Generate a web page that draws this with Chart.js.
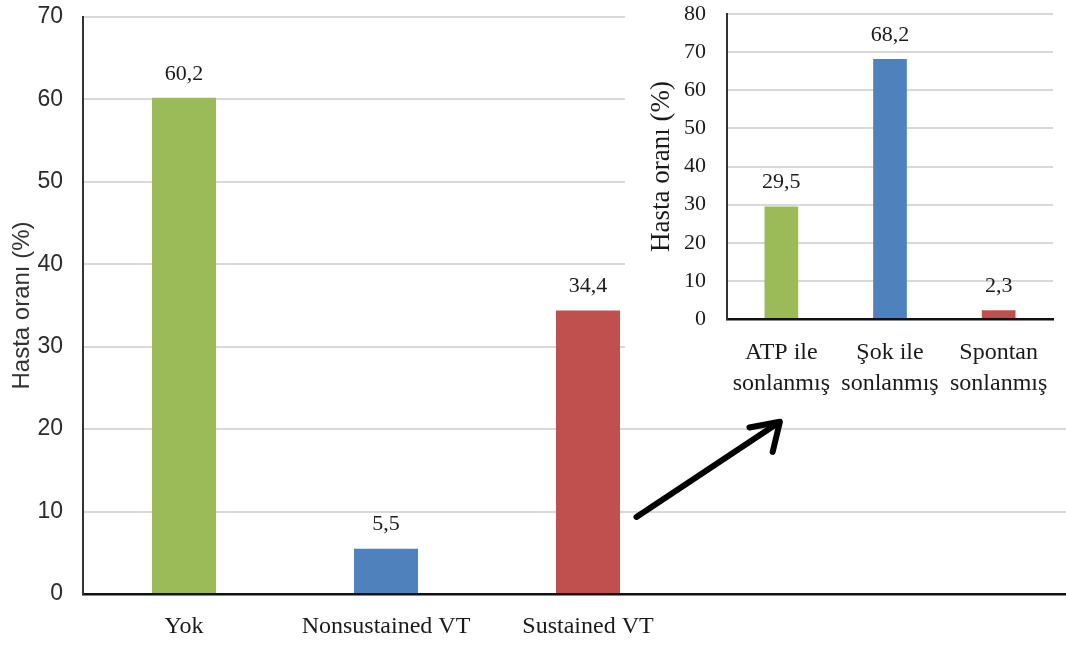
<!DOCTYPE html>
<html>
<head>
<meta charset="utf-8">
<script src="https://cdn.jsdelivr.net/npm/chart.js@4.4.1/dist/chart.umd.min.js"></script>
<style>
  html, body { margin: 0; padding: 0; background: #fff; overflow: hidden; }
  #stage { position: relative; width: 1066px; height: 646px; overflow: hidden; background: #fff; }
  #mainWrap { position: absolute; left: 0; top: 0; width: 1093px; height: 646px; }
  #insetWrap { position: absolute; left: 625px; top: 0; width: 441px; height: 405px; background: #fff; }
  canvas { display: block; }
</style>
</head>
<body>
<div id="stage">
  <div id="mainWrap"><canvas id="mainChart" width="1093" height="646"></canvas></div>
  <div id="insetWrap"><canvas id="insetChart" width="441" height="405"></canvas></div>
</div>
<script>
// Main chart: VT occurrence
const mainCategories = ['Yok', 'Nonsustained VT', 'Sustained VT'];
const mainValues = [60.2, 5.5, 34.4];
const mainColors = ['#9BBB59', '#4F81BD', '#C0504D'];
const mainTickValues = [0, 10, 20, 30, 40, 50, 60, 70];

// Inset chart: how sustained VT episodes ended
const insetCategories = [['ATP ile', 'sonlanmış'], ['Şok ile', 'sonlanmış'], ['Spontan', 'sonlanmış']];
const insetValues = [29.5, 68.2, 2.3];
const insetColors = ['#9BBB59', '#4F81BD', '#C0504D'];
const insetTickValues = [0, 10, 20, 30, 40, 50, 60, 70, 80];

const axisTitle = 'Hasta oranı (%)';

// arrow pointing from the Sustained VT bar towards the inset (category index, value)
const arrowFrom = { index: 2.24, value: 9.35 };
const arrowTo = { index: 2.95, value: 20.9 };

const fmt = v => String(v).replace('.', ',');

// value labels above each bar
function valueLabels(font, gap) {
  return {
    id: 'valueLabels',
    afterDatasetsDraw(chart) {
      const ctx = chart.ctx;
      const meta = chart.getDatasetMeta(0);
      const data = chart.data.datasets[0].data;
      ctx.save();
      ctx.font = font;
      ctx.fillStyle = '#1a1a1a';
      ctx.textAlign = 'center';
      ctx.textBaseline = 'middle';
      meta.data.forEach((bar, i) => {
        const v = data[i];
        if (v === null || v === undefined) return;
        ctx.fillText(fmt(v), bar.x, bar.y - gap);
      });
      ctx.restore();
    }
  };
}

const arrowPlugin = {
  id: 'arrow',
  afterDraw(chart) {
    const xs = chart.scales.x, ys = chart.scales.y;
    const x0 = xs.getPixelForValue(arrowFrom.index), y0 = ys.getPixelForValue(arrowFrom.value);
    const x1 = xs.getPixelForValue(arrowTo.index), y1 = ys.getPixelForValue(arrowTo.value);
    const back = Math.atan2(y0 - y1, x0 - x1);
    const arm = 31;
    const ctx = chart.ctx;
    ctx.save();
    ctx.strokeStyle = '#000';
    ctx.lineWidth = 6;
    ctx.lineCap = 'round';
    ctx.lineJoin = 'round';
    ctx.beginPath();
    ctx.moveTo(x0, y0);
    ctx.lineTo(x1 - 3, y1 + 2);
    ctx.stroke();
    ctx.beginPath();
    ctx.moveTo(x1 + arm * Math.cos(back + 0.40), y1 + arm * Math.sin(back + 0.40));
    ctx.lineTo(x1, y1);
    ctx.lineTo(x1 + arm * Math.cos(back - 0.75), y1 + arm * Math.sin(back - 0.75));
    ctx.stroke();
    ctx.restore();
  }
};

// fixed axis width; the plot top/bottom come from the layout padding only
const fixVertical = w => s => { s.width = w; s.paddingTop = 0; s.paddingBottom = 0; };

Chart.defaults.animation = false;
Chart.defaults.responsive = false;
Chart.defaults.devicePixelRatio = 1;
Chart.defaults.plugins.legend.display = false;
Chart.defaults.plugins.tooltip.enabled = false;

// two empty slots keep the category width of the wider plot
new Chart(document.getElementById('mainChart'), {
  type: 'bar',
  data: {
    labels: mainCategories.concat(['', '']),
    datasets: [{
      data: mainValues.concat([null, null]),
      backgroundColor: mainColors,
      borderWidth: 0,
      categoryPercentage: 1,
      barPercentage: 0.317
    }]
  },
  options: {
    layout: { padding: { top: 17, right: 0, left: 0, bottom: 0 } },
    scales: {
      x: {
        offset: true,
        grid: { display: false },
        border: { display: true, color: '#111', width: 2.5 },
        ticks: { color: '#1a1a1a', padding: 10, font: { family: 'Liberation Serif', size: 24 } },
        afterFit: s => { s.height = 52; }
      },
      y: {
        min: 0, max: 70,
        afterBuildTicks: s => { s.ticks = mainTickValues.map(v => ({ value: v })); },
        grid: { color: '#D9D9D9', lineWidth: 2, drawTicks: false },
        border: { display: true, color: '#333', width: 2 },
        ticks: { color: '#2b2b2b', padding: 20, font: { family: 'Liberation Sans', size: 23 } },
        title: {
          display: true, text: axisTitle, color: '#333',
          font: { family: 'Liberation Sans', size: 24 },
          padding: { top: 8, bottom: 0 }
        },
        afterFit: fixVertical(83)
      }
    }
  },
  plugins: [valueLabels("22px 'Liberation Serif'", 24), arrowPlugin]
});

new Chart(document.getElementById('insetChart'), {
  type: 'bar',
  data: {
    labels: insetCategories,
    datasets: [{
      data: insetValues,
      backgroundColor: insetColors,
      borderWidth: 0,
      categoryPercentage: 1,
      barPercentage: 0.31
    }]
  },
  options: {
    layout: { padding: { top: 14, right: 13, left: 0, bottom: 0 } },
    scales: {
      x: {
        offset: true,
        grid: { display: false },
        border: { display: true, color: '#111', width: 2.5 },
        ticks: { color: '#1a1a1a', padding: 10, font: { family: 'Liberation Serif', size: 24, lineHeight: 1.3 } },
        afterFit: s => { s.height = 86; }
      },
      y: {
        min: 0, max: 80,
        afterBuildTicks: s => { s.ticks = insetTickValues.map(v => ({ value: v })); },
        grid: { color: '#D9D9D9', lineWidth: 2, drawTicks: false },
        border: { display: true, color: '#333', width: 2 },
        ticks: { color: '#1a1a1a', padding: 21, font: { family: 'Liberation Serif', size: 22 } },
        title: {
          display: true, text: axisTitle, color: '#1a1a1a',
          font: { family: 'Liberation Serif', size: 27 },
          padding: { top: 21, bottom: 0 }
        },
        afterFit: fixVertical(102)
      }
    }
  },
  plugins: [valueLabels("22px 'Liberation Serif'", 24)]
});
</script>
</body>
</html>
